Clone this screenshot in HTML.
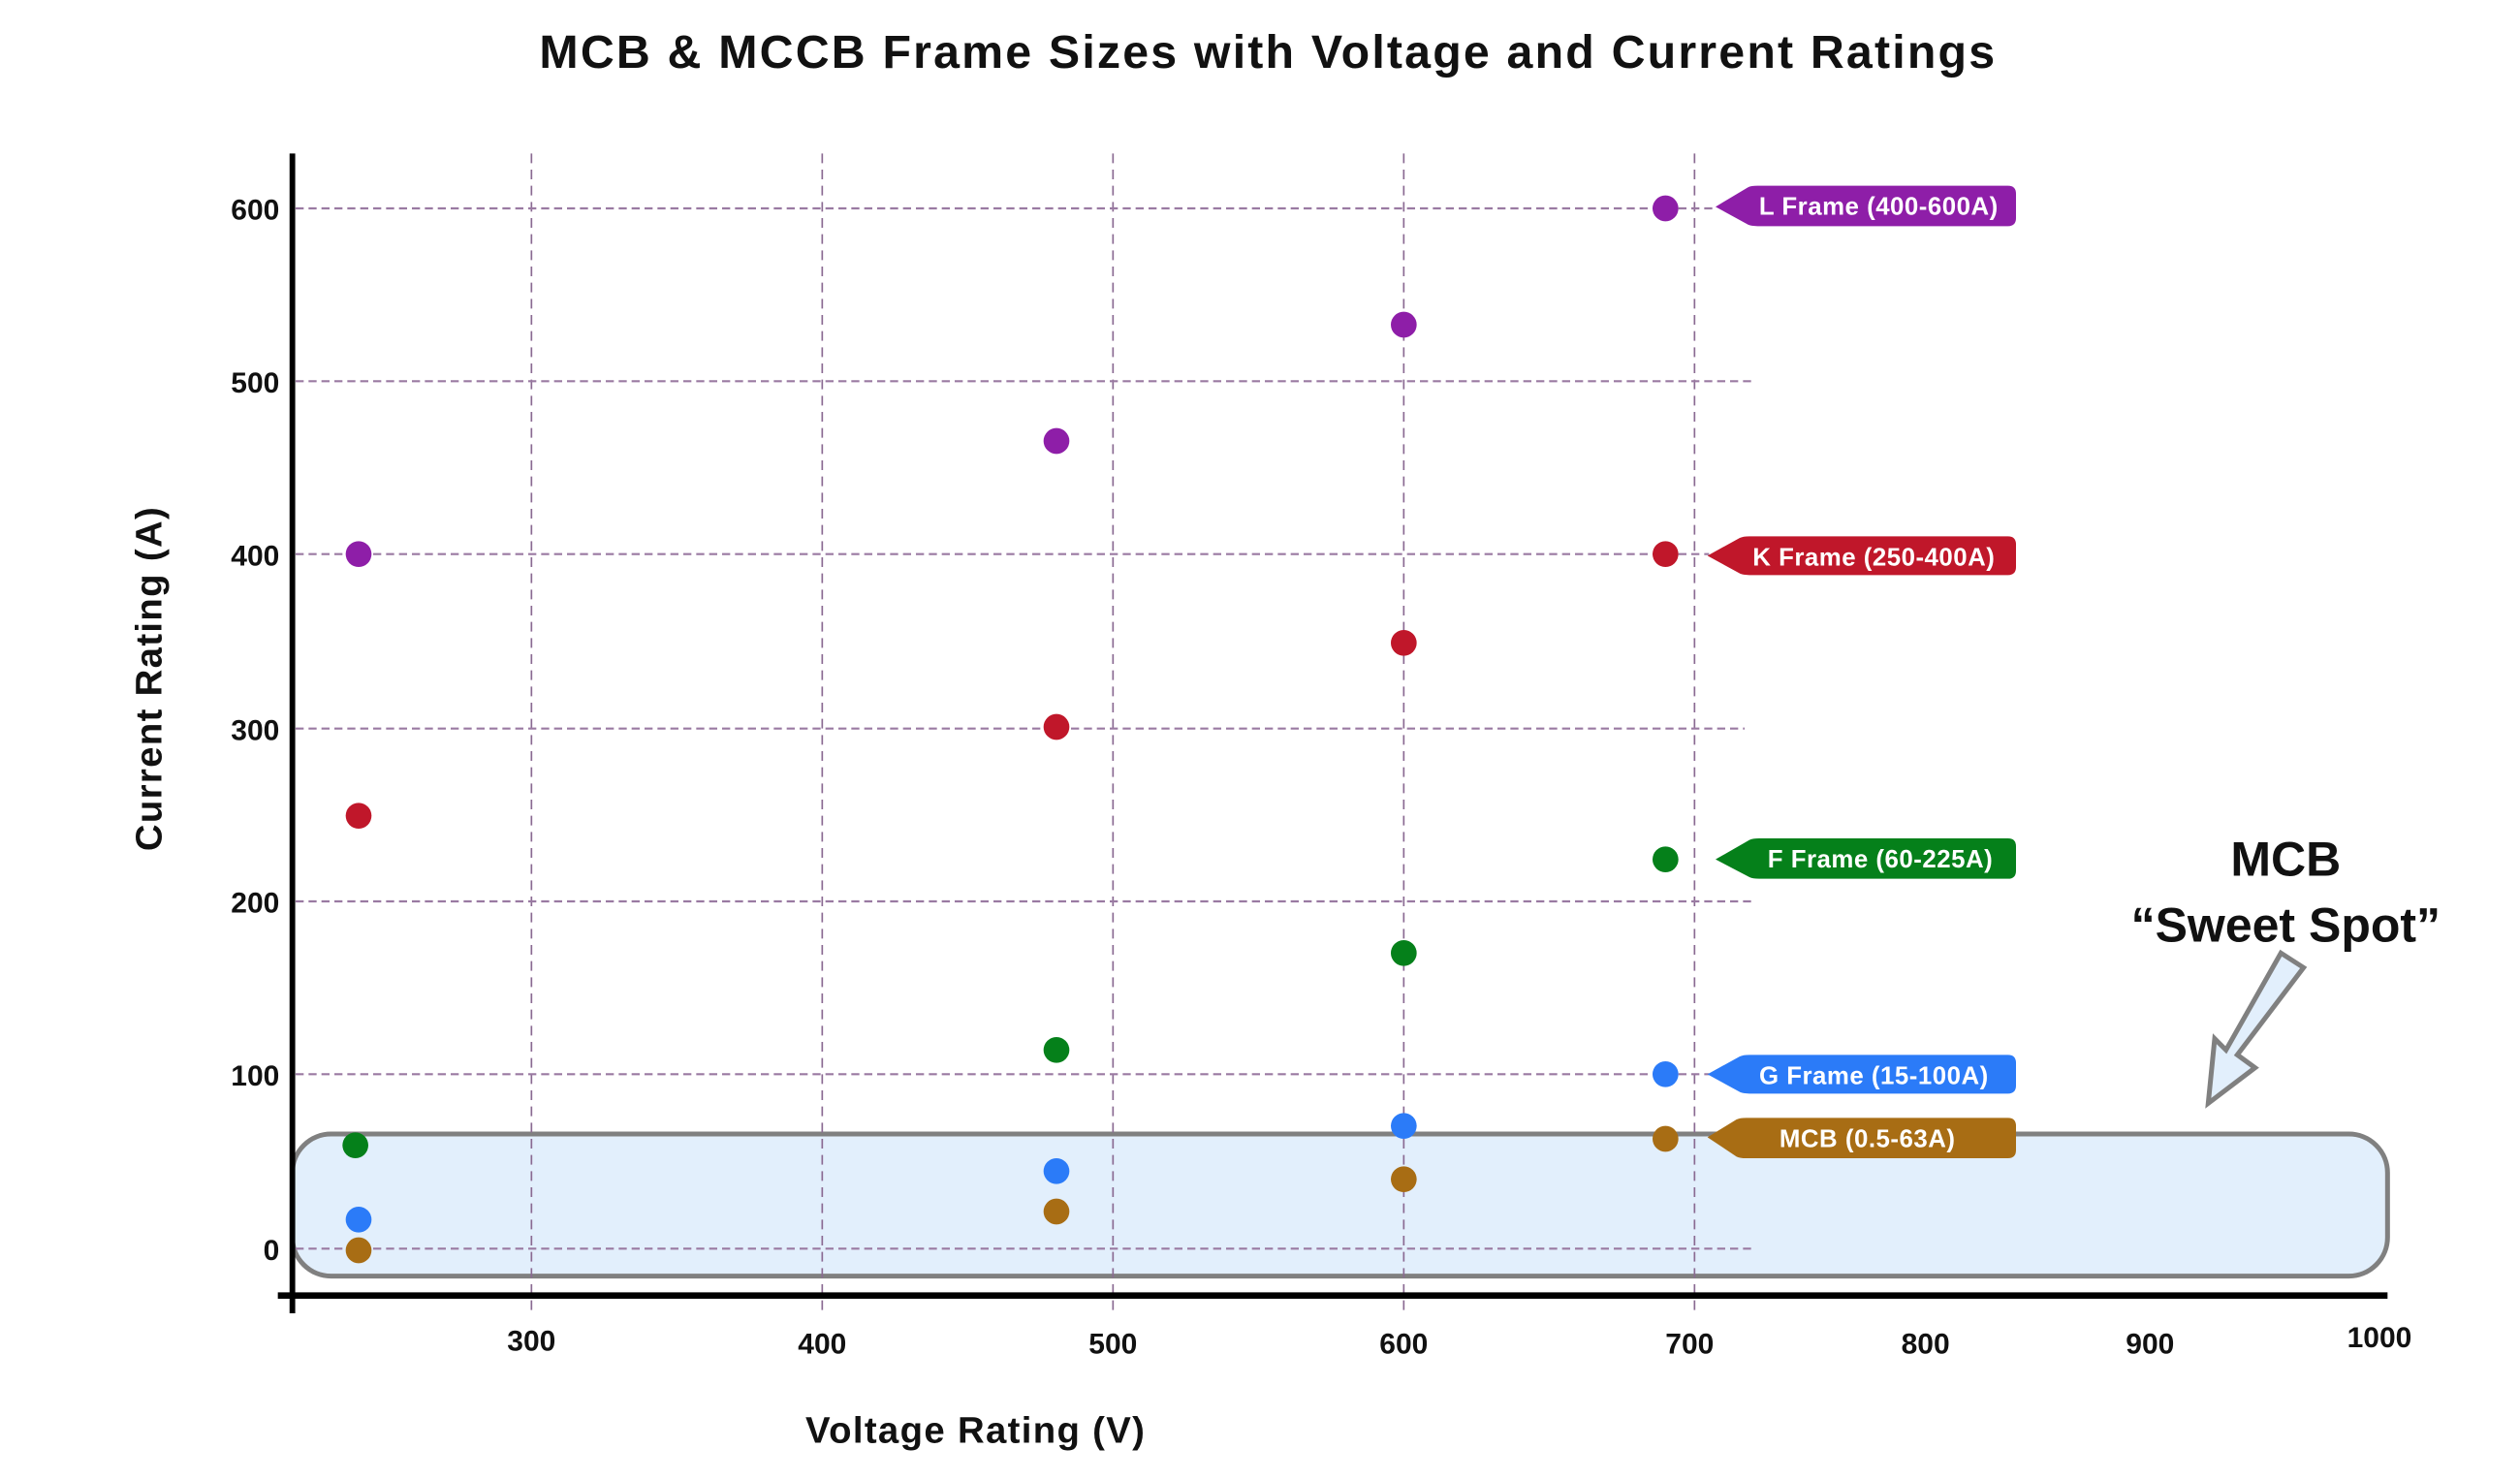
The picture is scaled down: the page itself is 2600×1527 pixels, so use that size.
<!DOCTYPE html>
<html><head><meta charset="utf-8"><style>html,body{margin:0;padding:0;background:#fff}svg{display:block}</style></head>
<body>
<svg width="2600" height="1527" viewBox="0 0 1560 916.2" xmlns="http://www.w3.org/2000/svg" font-family="'Liberation Sans', sans-serif" font-weight="bold">
<rect x="0" y="0" width="1560" height="916.2" fill="#fff"/>
<text x="785" y="42" font-size="29" text-anchor="middle" fill="#111" letter-spacing="1.3">MCB &amp; MCCB Frame Sizes with Voltage and Current Ratings</text>
<rect x="181" y="702" width="1297" height="88" rx="24" fill="#e2effc" stroke="#808080" stroke-width="3"/>
<g stroke="#8a6a92" stroke-width="1" stroke-dasharray="6,4" fill="none">
<line x1="329" y1="95" x2="329" y2="812"/>
<line x1="509" y1="95" x2="509" y2="812"/>
<line x1="689" y1="95" x2="689" y2="812"/>
<line x1="869" y1="95" x2="869" y2="812"/>
<line x1="1049" y1="95" x2="1049" y2="812"/>
</g>
<g stroke="#9a7aa2" stroke-width="1.3" stroke-dasharray="5,3" fill="none">
<line x1="183" y1="129" x2="1062" y2="129"/>
<line x1="183" y1="236" x2="1085" y2="236"/>
<line x1="183" y1="343" x2="1058" y2="343"/>
<line x1="183" y1="451" x2="1080" y2="451"/>
<line x1="183" y1="558" x2="1085" y2="558"/>
<line x1="183" y1="665" x2="1058" y2="665"/>
<line x1="183" y1="773" x2="1085" y2="773"/>
</g>
<line x1="181" y1="95" x2="181" y2="813" stroke="#000" stroke-width="3.5"/>
<line x1="172" y1="802" x2="1478" y2="802" stroke="#000" stroke-width="4"/>
<g font-size="18" fill="#111" text-anchor="end">
<text x="173" y="136">600</text>
<text x="173" y="243">500</text>
<text x="173" y="350">400</text>
<text x="173" y="458">300</text>
<text x="173" y="565">200</text>
<text x="173" y="672">100</text>
<text x="173" y="780">0</text>
</g>
<g font-size="18" fill="#111" text-anchor="middle">
<text x="329" y="836">300</text>
<text x="509" y="838">400</text>
<text x="689" y="838">500</text>
<text x="869" y="838">600</text>
<text x="1046" y="838">700</text>
<text x="1192" y="838">800</text>
<text x="1331" y="838">900</text>
<text x="1473" y="834">1000</text>
</g>
<text x="604" y="893" font-size="23" text-anchor="middle" fill="#111" letter-spacing="0.8">Voltage Rating (V)</text>
<text transform="translate(100,420) rotate(-90)" font-size="23" text-anchor="middle" fill="#111" letter-spacing="0.8">Current Rating (A)</text>
<g fill="#8e1ea8"><circle cx="222" cy="343" r="8"/><circle cx="654" cy="273" r="8"/><circle cx="869" cy="201" r="8"/><circle cx="1031" cy="129" r="8"/></g>
<g fill="#c0172a"><circle cx="222" cy="505" r="8"/><circle cx="654" cy="450" r="8"/><circle cx="869" cy="398" r="8"/><circle cx="1031" cy="343" r="8"/></g>
<g fill="#05801a"><circle cx="220" cy="709" r="8"/><circle cx="654" cy="650" r="8"/><circle cx="869" cy="590" r="8"/><circle cx="1031" cy="532" r="8"/></g>
<g fill="#2b7bf8"><circle cx="222" cy="755" r="8"/><circle cx="654" cy="725" r="8"/><circle cx="869" cy="697" r="8"/><circle cx="1031" cy="665" r="8"/></g>
<g fill="#a86d14"><circle cx="222" cy="774" r="8"/><circle cx="654" cy="750" r="8"/><circle cx="869" cy="730" r="8"/><circle cx="1031" cy="705" r="8"/></g>
<g font-size="15.5" fill="#fff" text-anchor="middle" letter-spacing="0.3">
<path d="M1062,128 L1082,116 Q1084,115 1088,115 H1243 Q1248,115 1248,120 V135 Q1248,140 1243,140 H1088 Q1084,140 1082,139 Z" fill="#8e1ea8"/>
<text x="1163" y="133">L Frame (400-600A)</text>
<path d="M1057,344 L1077,333 Q1079,332 1083,332 H1243 Q1248,332 1248,337 V351 Q1248,356 1243,356 H1083 Q1079,356 1077,355 Z" fill="#c0172a"/>
<text x="1160" y="350">K Frame (250-400A)</text>
<path d="M1062,532 L1083,520 Q1085,519 1089,519 H1243 Q1248,519 1248,524 V539 Q1248,544 1243,544 H1089 Q1085,544 1083,543 Z" fill="#05801a"/>
<text x="1164" y="537">F Frame (60-225A)</text>
<path d="M1057,665 L1077,654 Q1079,653 1083,653 H1243 Q1248,653 1248,658 V672 Q1248,677 1243,677 H1083 Q1079,677 1077,676 Z" fill="#2b7bf8"/>
<text x="1160" y="671">G Frame (15-100A)</text>
<path d="M1057,704 L1075,693 Q1077,692 1081,692 H1243 Q1248,692 1248,697 V712 Q1248,717 1243,717 H1081 Q1077,717 1075,716 Z" fill="#a86d14"/>
<text x="1156" y="710">MCB (0.5-63A)</text>
</g>
<text x="1415" y="542" font-size="30" text-anchor="middle" fill="#111">MCB</text>
<text x="1415" y="583" font-size="30" text-anchor="middle" fill="#111">“Sweet Spot”</text>
<polygon points="1412,590 1426,599 1385,653 1396,661 1367,683 1371,643 1378,650" fill="#e2effc" stroke="#808080" stroke-width="3" stroke-linejoin="miter"/>
</svg>
</body></html>
